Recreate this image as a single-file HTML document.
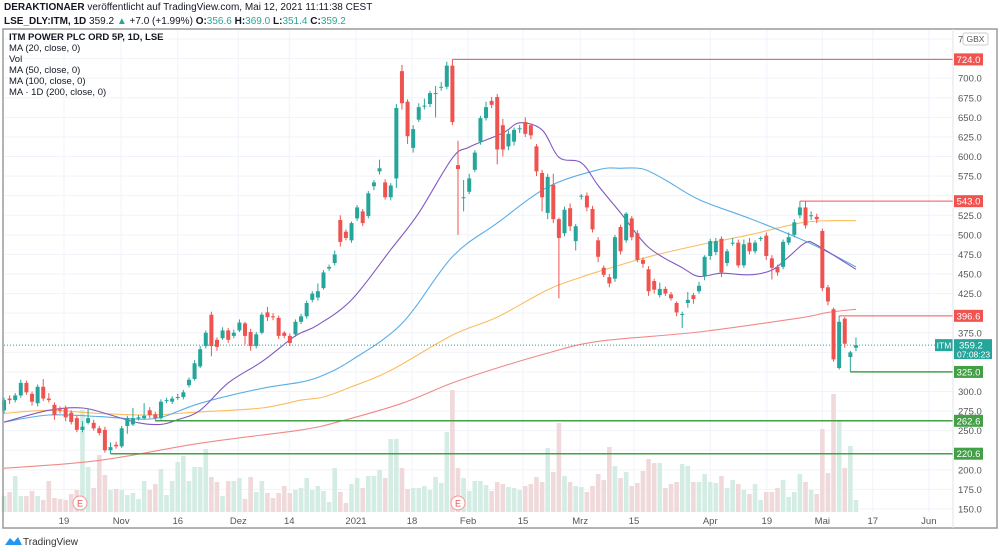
<!DOCTYPE html>
<html><head><meta charset="utf-8"><style>
body{margin:0;background:#fff;width:1000px;height:552px;overflow:hidden;font-family:"Liberation Sans",sans-serif}
#hdr1{position:absolute;left:4px;top:2px;font-size:10px;color:#131722}
#hdr2{position:absolute;left:4px;top:16px;font-size:10px;color:#131722}
.t{color:#26a69a}
svg{position:absolute;left:0;top:0}
</style></head><body>
<div id="hdr1"><b>DERAKTIONAER</b> veröffentlicht auf TradingView.com, Mai 12, 2021 11:11:38 CEST</div>
<div id="hdr2"><b>LSE_DLY:ITM, 1D</b> 359.2 <span class="t">▲</span> +7.0 (+1.99%) <b>O:</b><span class="t">356.6</span> <b>H:</b><span class="t">369.0</span> <b>L:</b><span class="t">351.4</span> <b>C:</b><span class="t">359.2</span></div>
<svg id="c" width="1000" height="552">
<g id="grid"></g><g id="vol"></g><g id="lines"></g><g id="candles"></g><g id="axis"></g><g id="levels"></g>
<rect x="3" y="29" width="994" height="499" fill="none" stroke="#9a9a9a" stroke-width="1.5"/>
<line x1="953" y1="29" x2="953" y2="528" stroke="#e0e3eb"/>
<g font-size="9.5" fill="#131722">
<text x="9" y="40" font-weight="bold">ITM POWER PLC ORD 5P, 1D, LSE</text>
<text x="9" y="51">MA (20, close, 0)</text>
<text x="9" y="62">Vol</text>
<text x="9" y="73">MA (50, close, 0)</text>
<text x="9" y="84">MA (100, close, 0)</text>
<text x="9" y="95">MA · 1D (200, close, 0)</text>
</g>
<g>
<path d="M5 545 l5 -7 l4 4 l4 -5 l4 8 z" fill="#2196f3"/>
<text x="23" y="545" font-size="10" fill="#333">TradingView</text>
</g>
</svg>
<script>
const opens=[276,291,289,295,311,297,285,306,291,283,277,279,273,266,251,260,260,253,251,225,232,230,256,258,266,266,276,271,266,288,287,292,293,308,316,332,358,398,366,368,378,371,378,387,376,358,375,401,396,394,375,371,373,389,396,417,420,432,457,464,519,504,493,521,530,524,562,581,567,548,572,709,670,611,647,664,667,680,688,689,716,589,547,555,583,619,649,671,676,640,613,619,635,644,640,613,579,528,564,520,502,534,492,549,550,533,493,458,446,444,510,493,521,502,468,456,441,423,431,424,413,398,413,423,428,447,473,478,495,464,489,490,461,490,479,495,499,470,459,459,490,500,525,535,524,523,505,433,405,330,393,344,356];
const closes=[289,289,295,311,299,287,306,291,289,270,276,267,261,251,255,266,253,247,225,229,230,253,266,266,267,269,270,266,287,289,291,293,299,315,336,354,375,358,357,378,366,375,388,371,358,373,398,395,395,371,371,362,389,396,413,425,428,452,459,475,491,496,515,535,515,553,567,585,548,563,662,668,626,635,663,665,681,681,689,716,644,584,548,572,605,649,663,666,609,609,629,634,636,629,627,581,548,574,520,496,532,511,511,550,535,507,472,449,438,497,479,527,497,468,463,428,430,431,425,419,401,399,417,418,435,472,492,492,452,479,490,461,488,479,490,496,473,458,452,491,497,516,535,512,525,520,432,415,341,389,361,350,359];
const highs=[292,295,298,315,314,300,309,316,298,286,281,282,276,269,262,278,264,256,255,235,236,256,269,279,270,285,280,274,290,292,294,297,302,318,340,358,378,402,369,382,381,379,392,389,380,376,401,408,400,397,377,374,392,399,416,428,438,455,462,480,525,507,517,538,533,556,570,596,571,566,667,717,673,640,668,674,684,690,695,721,724,620,570,578,608,652,670,676,680,648,633,637,640,650,642,616,583,578,578,522,536,540,514,552,554,537,497,461,450,500,513,529,524,506,471,460,444,439,434,427,415,402,427,426,440,474,495,496,498,482,496,494,494,496,493,498,503,474,462,494,503,520,543,543,530,527,508,436,407,396.6,395,352,369];
const lows=[272,284,286,292,296,282,281,288,286,264,272,262,258,248,248,258,250,244,222,220.6,227,228,246,256,263,264,266,262.6,264,285,284,289,290,305,314,330,355,345,352,366,362,368,376,360,352,355,373,390,391,367,368,358,370,386,393,414,416,430,454,461,485,493,490,518,511,521,557,577,545,544,560,660,616,605,644,660,663,650,684,686,640,500,530,552,580,615,646,662,590,600,608,614,630,625,622,575,530,520,515,419,498,505,480,545,530,503,465,446,433,440,475,490,493,465,458,422,425,420,422,416,396,381,407,412,425,442,468,474,446,460,486,458,458,475,476,492,468,443,448,456,487,497,521,508,519,515,428,410,338,328,356,325,351.4];
const volumes=[16,20,36,16,16,21,16,12,31,14,13,12,18,22,102,45,24,57,37,22,23,22,17,19,13,31,22,28,43,17,31,50,56,31,45,45,63,35,30,16,31,31,34,13,35,20,31,19,14,19,26,19,22,24,34,22,26,21,10,44,20,9,28,34,24,36,36,42,34,73,73,44,23,24,24,26,22,35,29,80,122,44,34,21,31,31,27,21,30,28,25,24,22,26,28,35,30,64,40,89,36,30,26,25,20,26,38,32,65,46,34,40,26,29,41,53,49,49,24,28,30,48,46,30,30,38,30,29,36,24,32,28,22,18,28,12,20,20,24,32,15,20,38,30,22,18,83,39,118,92,44,66,12];
const ma20Idx=[0,8,14,19,24,28,31,35,40,46,51,53,56,62,69,74,80,83,89,92,96,99,103,106,110,115,121,124,128,133,137,140,143,145,152];
const ma20Val=[261,276,279,270,260,258,264,276,311,338,366,375,385,417,481,528,598,612,630,643,634,599,592,563,528,484,458,447,451,449,455,472,490,487,456];
const ma50Idx=[0,8,17,23,28,35,46,53,57,62,71,80,88,97,106,110,114,118,124,133,142,147,152];
const ma50Val=[261,270,268,265,267,285,304,312,321,340,387,472,515,561,583,585,584,570,545,521,495,478,459];
const ma100Idx=[0,8,17,26,35,46,53,57,62,69,80,88,97,103,106,115,124,133,142,147,152];
const ma100Val=[272,276,272,270,274,279,289,293,306,327,372,395,430,446,453,472,487,500,515,518,518];
const ma200Idx=[0,17,35,53,60,71,80,88,97,106,124,142,147,152];
const ma200Val=[202,212,234,251,262,285,311,330,349,364,376,394,401,405];
const priceTicks=[150,175,200,225,250,275,300,325,350,375,400,425,450,475,500,525,550,575,600,625,650,675,700,725,750];
const dateLabels=["19","Nov","16","Dez","14","2021","18","Feb","15","Mrz","15","Apr","19","Mai","17","Jun"];
const dateIdx=[10.7,20.9,31,41.8,50.9,62.8,72.8,82.8,92.6,102.8,112.4,126,136.1,146,155,165];
const levelVals=[724,543,396.6,325,262.6,220.6];
const levelStart=[80,142,149,151,27,19];
const levelKind=["r","r","r","g","g","g"];
const lastPrice=359.2;

const NS="http://www.w3.org/2000/svg";
const yP=p=>509-(p-150)*0.7833;
const xB=i=>4+i*5.605;
const VOLBASE=512;
const AXR=953;
function mk(tag,attrs,parent){const e=document.createElementNS(NS,tag);for(const k in attrs)e.setAttribute(k,attrs[k]);parent.appendChild(e);return e;}
const G=document.getElementById('grid'),V=document.getElementById('vol'),L=document.getElementById('lines'),C=document.getElementById('candles'),LV=document.getElementById('levels'),AX=document.getElementById('axis');

function hidden(p){
  if(p>=lastPrice-20&&p<=lastPrice+8)return true;
  return levelVals.some(v=>Math.abs(v-p)<8.5);
}
priceTicks.forEach(p=>{
  const y=yP(p);
  const gl=mk('line',{x1:4,x2:AXR,y1:y,y2:y,stroke:'#f0f3fa'},G);
  
  
  if(hidden(p))return;
  const t=mk('text',{x:958,y:y+3.5,'font-size':9.5,fill:'#555'},AX);
  
  
  t.textContent=p.toFixed(1);
});
dateLabels.forEach((d,k)=>{
  const x=xB(dateIdx[k]);
  const gl=mk('line',{x1:x,x2:x,y1:30,y2:512,stroke:'#f0f3fa'},G);
  
  
  const t=mk('text',{x:x,y:524,'font-size':9.5,fill:'#555','text-anchor':'middle'},AX);
  
  
  t.textContent=d;
});
const gbx=mk('rect',{x:963,y:33,width:25,height:12,rx:2,fill:'#fff',stroke:'#ccc'},AX);


const gt=mk('text',{x:975.5,y:42,'font-size':8.5,fill:'#555','text-anchor':'middle'},AX);


gt.textContent='GBX';

volumes.forEach((v,i)=>{
  const up=closes[i]>=opens[i];
  const r=mk('rect',{x:xB(i)-2.3,y:VOLBASE-v,width:4.6,height:v,fill:up?'#d3ece4':'#f0d9da'},V);
  
  
});
function ma(idx,val,color,name){
  const P=idx.map((i,k)=>[xB(i),yP(val[k])]);
  let d='M'+P[0][0].toFixed(1)+','+P[0][1].toFixed(1);
  for(let k=0;k<P.length-1;k++){
    const p0=P[Math.max(0,k-1)],p1=P[k],p2=P[k+1],p3=P[Math.min(P.length-1,k+2)];
    const c1=[p1[0]+(p2[0]-p0[0])/6,p1[1]+(p2[1]-p0[1])/6];
    const c2=[p2[0]-(p3[0]-p1[0])/6,p2[1]-(p3[1]-p1[1])/6];
    d+=' C'+c1[0].toFixed(1)+','+c1[1].toFixed(1)+' '+c2[0].toFixed(1)+','+c2[1].toFixed(1)+' '+p2[0].toFixed(1)+','+p2[1].toFixed(1);
  }
  const pl=mk('path',{d:d,fill:'none',stroke:color,'stroke-width':1.1},L);
  
  
}
ma(ma200Idx,ma200Val,'#f08a87','ma200-line');
ma(ma100Idx,ma100Val,'#fbbd5e','ma100-line');
ma(ma50Idx,ma50Val,'#5aaee6','ma50-line');
ma(ma20Idx,ma20Val,'#8059c0','ma20-line');
const lp=mk('line',{x1:4,x2:935,y1:yP(lastPrice),y2:yP(lastPrice),stroke:'#26a69a','stroke-dasharray':'1,2','stroke-width':1},L);


opens.forEach((o,i)=>{
  const c=closes[i],up=c>=o,col=up?'#26a69a':'#ef5350',x=xB(i);
  const w=mk('line',{x1:x,x2:x,y1:yP(highs[i]),y2:yP(lows[i]),stroke:col,'stroke-width':1},C);
  
  
  const top=yP(Math.max(o,c)),bot=yP(Math.min(o,c));
  const b=mk('rect',{x:x-2,y:top,width:4,height:Math.max(1,bot-top),fill:col},C);
  
  
});
levelVals.forEach((p,k)=>{
  const col=levelKind[k]==='r'?'#f05350':'#43a047';
  const y=yP(p);
  const ln=mk('line',{x1:xB(levelStart[k]),x2:AXR,y1:y,y2:y,stroke:col,'stroke-width':levelKind[k]==='r'?1:1.5},LV);
  
  
  const bx=mk('rect',{x:954,y:y-6,width:29,height:12,fill:col},LV);
  
  
  const t=mk('text',{x:968.5,y:y+3.5,'font-size':9.5,fill:'#fff','text-anchor':'middle'},LV);
  
  
  t.textContent=p.toFixed(1);
});
const ly=yP(lastPrice);
const it=mk('rect',{x:935,y:ly-6,width:18,height:12,fill:'#26a69a'},LV);


const itt=mk('text',{x:944,y:ly+3.5,'font-size':8.5,fill:'#fff','text-anchor':'middle'},LV);


itt.textContent='ITM';
const vb=mk('rect',{x:954,y:ly-6,width:38,height:20,fill:'#26a69a'},LV);


const vt=mk('text',{x:959,y:ly+3.5,'font-size':9.5,fill:'#fff'},LV);


vt.textContent=lastPrice.toFixed(1);
const ct=mk('text',{x:957,y:ly+12.5,'font-size':8.5,fill:'#fff'},LV);


ct.textContent='07:08:23';
[80,458].forEach((x,k)=>{
  const ci=mk('circle',{cx:x,cy:503,r:7,fill:'#fff',stroke:'#ef9a9a'},LV);
  
  
  const t=mk('text',{x:x,y:506.5,'font-size':9,fill:'#ef5350','text-anchor':'middle'},LV);
  
  
  t.textContent='E';
});
</script>
</body></html>
